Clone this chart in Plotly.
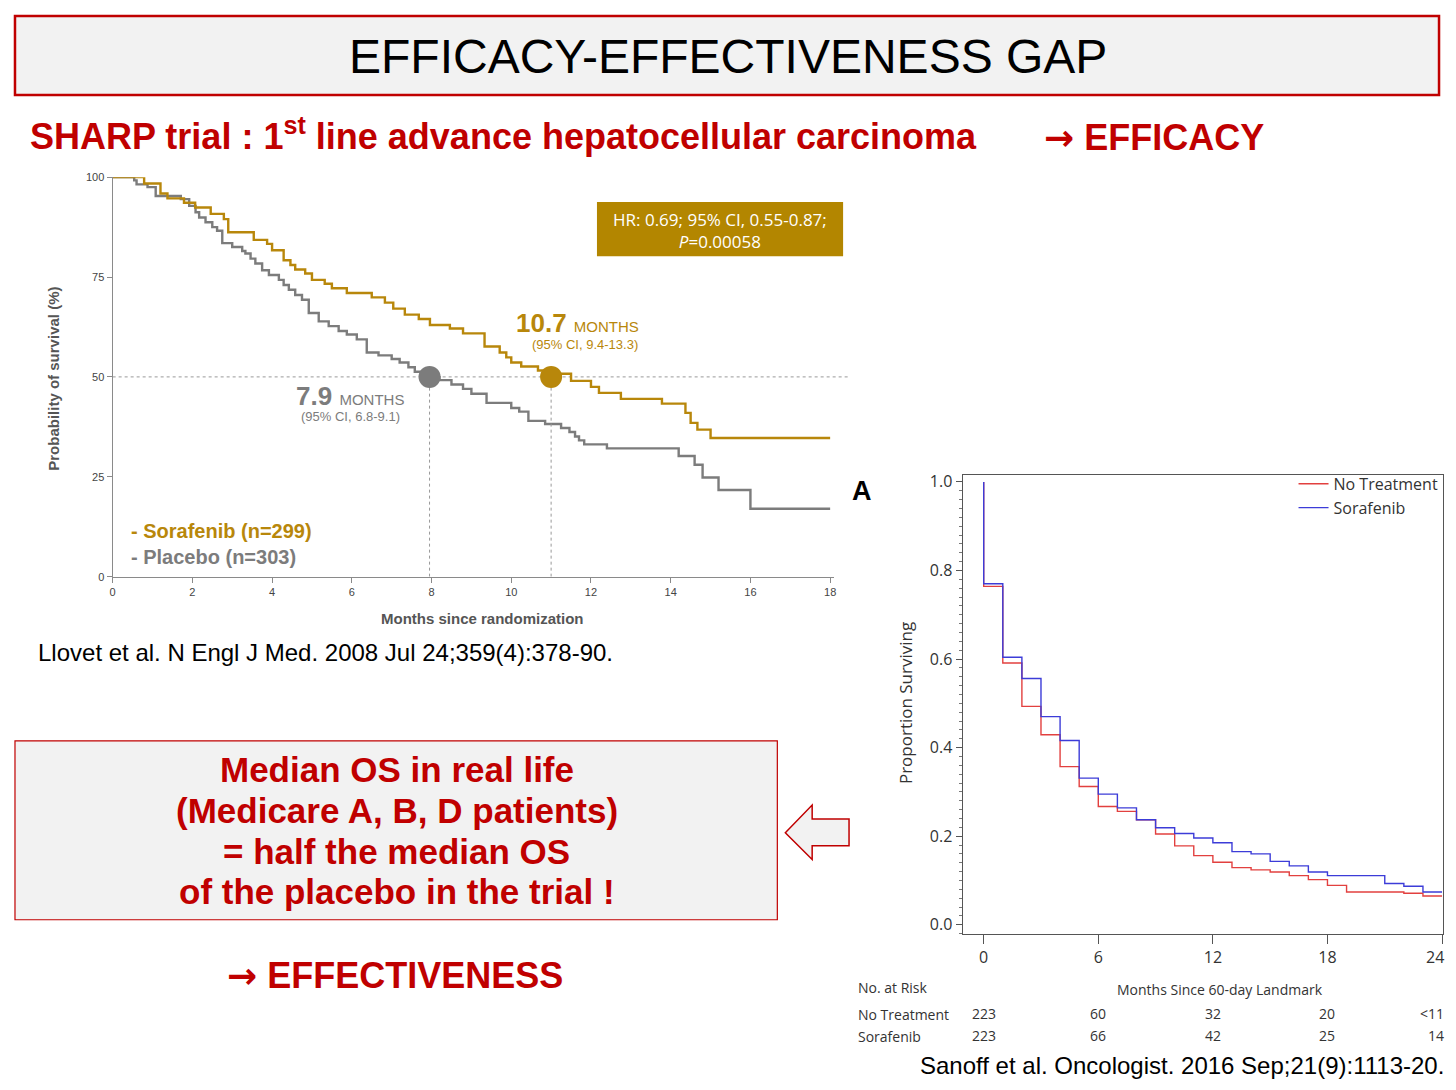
import plotly.graph_objects as go

# page is 1456x1090; the body has an 8px margin, so the figure is drawn 16px smaller
OFF = 8
W, H = 1456 - 2 * OFF, 1090 - 2 * OFF

# --- SHARP trial (Llovet 2008), survival in %
sorafenib_months = [0, 0.79, 1.2, 1.375, 1.79, 2.07, 2.46, 2.79, 2.9, 3.54, 3.875, 4.0, 4.29, 4.46,
                    4.58, 4.83, 5.0, 5.32, 5.5, 5.875, 6.5, 6.83, 7.04, 7.33, 7.68, 7.96, 8.46, 8.79,
                    9.33, 9.71, 9.875, 10.0, 10.25, 10.67, 10.85, 11.5, 12.0, 12.2, 12.75, 13.78,
                    14.37, 14.5, 14.67, 15.0, 18.0]
sorafenib_surv = [100, 98.4, 95.9, 94.7, 93.6, 92.4, 90.8, 89.5, 86.2, 84.3, 83.3, 81.7, 79.2, 78.0,
                  76.9, 75.9, 74.3, 73.3, 72.2, 71.0, 69.9, 68.6, 67.1, 65.6, 64.5, 63.0, 62.1, 60.9,
                  57.6, 56.1, 54.9, 53.6, 52.6, 51.6, 50.8, 49.0, 47.5, 46.0, 44.5, 43.3,
                  41.0, 38.5, 36.8, 34.7, 34.7]

placebo_months = [0, 0.54, 0.6, 0.875, 1.08, 1.71, 1.92, 2.08, 2.17, 2.33, 2.5, 2.62, 2.75, 3.0,
                  3.25, 3.33, 3.46, 3.58, 3.75, 3.92, 4.17, 4.29, 4.42, 4.58, 4.75, 4.92, 5.17,
                  5.42, 5.67, 5.875, 6.125, 6.375, 6.67, 7.0, 7.2, 7.42, 7.58, 7.95, 8.2, 8.5,
                  8.79, 9.0, 9.38, 10.0, 10.2, 10.43, 10.85, 11.25, 11.46, 11.6, 11.7, 11.83,
                  12.4, 14.2, 14.6, 14.8, 15.2, 16.0, 18.0]
placebo_surv = [100, 99.2, 98.2, 97.5, 95.3, 94.5, 92.8, 91.2, 89.9, 88.7, 87.5, 86.6, 83.5, 82.5,
                81.5, 80.9, 79.6, 78.4, 76.7, 75.5, 74.3, 73.0, 71.8, 70.5, 69.3, 66.0, 63.9,
                62.7, 61.5, 60.6, 59.4, 56.1, 55.4, 54.5, 53.6, 52.4, 51.3, 49.9, 49.2, 48.1,
                47.0, 45.8, 43.5, 42.2, 41.3, 39.0, 38.2, 37.2, 36.2, 35.1, 34.1, 33.1,
                32.1, 30.2, 28.0, 24.8, 21.7, 17.0, 17.0]

median_placebo = 7.95
median_sorafenib = 11.0
left_xticks = [0, 2, 4, 6, 8, 10, 12, 14, 16, 18]
left_yticks = [0, 25, 50, 75, 100]

# --- Sanoff 2016, Medicare landmark analysis
landmark_months = [0, 0, 1, 2, 3, 4, 5, 6, 7, 8, 9, 10, 11, 12, 13, 14, 15, 16, 17, 18, 19, 20, 21,
                   22, 23, 24]
no_treatment = [1.0, 0.764, 0.591, 0.493, 0.429, 0.357, 0.312, 0.267, 0.256, 0.237, 0.205, 0.178,
                0.156, 0.141, 0.129, 0.124, 0.119, 0.111, 0.102, 0.089, 0.074, 0.074, 0.074,
                0.071, 0.065, 0.065]
sorafenib_rl = [1.0, 0.770, 0.604, 0.556, 0.470, 0.416, 0.331, 0.295, 0.264, 0.237, 0.219, 0.206,
                0.196, 0.185, 0.165, 0.160, 0.143, 0.133, 0.119, 0.111, 0.111, 0.111, 0.093,
                0.087, 0.074, 0.074]
risk_months = [0, 6, 12, 18, 24]
risk_no_treatment = ["223", "60", "32", "20", "<11"]
risk_sorafenib = ["223", "66", "42", "25", "14"]
right_ytick_vals = [0, 0.2, 0.4, 0.6, 0.8, 1.0]

message_lines = ["Median OS in real life", "(Medicare A, B, D patients)",
                 "= half the median OS", "of the placebo in the trial !"]

GOLD = "#b8870b"
GREY = "#7c7c7c"
RED = "#c00000"
INK = "#333333"
ARIAL = "Arial, Liberation Sans, sans-serif"
NARROW = "Liberation Sans Narrow, Arial Narrow, Liberation Sans, sans-serif"
SAS = "Open Sans, Noto Sans, sans-serif"
ARROW = "<span style='font-family:DejaVu Sans'>\u2192</span>"


def fx(px):
    return (px - OFF) / W


def fy(py):
    return 1 - (py - OFF) / H


fig = go.Figure()

# left KM
fig.add_trace(go.Scatter(x=placebo_months, y=placebo_surv, mode="lines", line_shape="hv",
                         line=dict(color=GREY, width=2.4), showlegend=False, xaxis="x", yaxis="y"))
fig.add_trace(go.Scatter(x=sorafenib_months, y=sorafenib_surv, mode="lines", line_shape="hv",
                         line=dict(color=GOLD, width=2.4), showlegend=False, xaxis="x", yaxis="y"))
for m in [median_placebo, median_sorafenib]:
    fig.add_trace(go.Scatter(x=[m, m], y=[0, 50], mode="lines",
                             line=dict(color="#999999", width=1, dash="dot"),
                             showlegend=False, xaxis="x", yaxis="y"))
fig.add_trace(go.Scatter(x=[median_placebo, median_sorafenib], y=[50, 50], mode="markers",
                         marker=dict(size=22, color=[GREY, GOLD]), showlegend=False,
                         xaxis="x", yaxis="y"))

# right KM
fig.add_trace(go.Scatter(x=landmark_months, y=no_treatment, mode="lines", line_shape="hv",
                         name="No Treatment", line=dict(color="#e2403f", width=1.4),
                         xaxis="x2", yaxis="y2"))
fig.add_trace(go.Scatter(x=landmark_months, y=sorafenib_rl, mode="lines", line_shape="hv",
                         name="Sorafenib", line=dict(color="#3c3cd8", width=1.4),
                         xaxis="x2", yaxis="y2"))

shapes = [
    # title box
    dict(type="rect", xref="paper", yref="paper", x0=fx(12), x1=fx(1441), y0=fy(90), y1=fy(10),
         fillcolor="#f2f2f2", line=dict(color=RED, width=2.5), layer="below"),
    # message box
    dict(type="rect", xref="paper", yref="paper", x0=fx(12), x1=fx(777), y0=fy(924), y1=fy(743),
         fillcolor="#f2f2f2", line=dict(color=RED, width=1.2), layer="below"),
    # hollow arrow
    dict(type="path", xref="paper", yref="paper",
         path="M {:.4f} {:.4f} L {:.4f} {:.4f} L {:.4f} {:.4f} L {:.4f} {:.4f} L {:.4f} {:.4f} "
              "L {:.4f} {:.4f} L {:.4f} {:.4f} Z".format(
             fx(785), fy(836), fx(812), fy(808), fx(812), fy(822), fx(849), fy(822),
             fx(849), fy(849), fx(812), fy(849), fx(812), fy(863)),
         fillcolor="#f2f2f2", line=dict(color=RED, width=1.5)),
    # HR box
    dict(type="rect", xref="paper", yref="paper", x0=fx(596), x1=fx(843), y0=fy(253), y1=fy(198),
         fillcolor="#b38600", line=dict(width=0)),
    # 50% reference
    dict(type="line", xref="paper", yref="y", x0=fx(110), x1=fx(850), y0=50, y1=50,
         line=dict(color="#999999", width=1, dash="dot"), layer="below"),
]

annotations = [
    dict(text="EFFICACY-EFFECTIVENESS GAP", x=fx(727), y=fy(51), font=dict(size=48, color="black", family=ARIAL)),
    dict(text="<b>SHARP trial : 1<sup>st</sup> line advance hepatocellular carcinoma</b>", x=fx(25), y=fy(129),
         xanchor="left", font=dict(size=36, color=RED, family=ARIAL)),
    dict(text="<b>" + ARROW + " EFFICACY</b>", x=fx(1043), y=fy(133), xanchor="left",
         font=dict(size=36, color=RED, family=ARIAL)),
    dict(text="<b>" + ARROW + " EFFECTIVENESS</b>", x=fx(393), y=fy(980),
         font=dict(size=36, color=RED, family=ARIAL)),
    dict(text="Llovet et al. N Engl J Med. 2008 Jul 24;359(4):378-90.", x=fx(33), y=fy(654),
         xanchor="left", font=dict(size=24, color="black", family=ARIAL)),
    dict(text="Sanoff et al. Oncologist. 2016 Sep;21(9):1113-20.", x=fx(1448), y=fy(1071),
         xanchor="right", font=dict(size=24, color="black", family=ARIAL)),
    # left chart texts
    dict(text="HR: 0.69; 95% CI, 0.55-0.87;<br><i>P</i>=0.00058", x=fx(719), y=fy(227),
         font=dict(size=17, color="white", family=SAS)),
    dict(text="<b>10.7</b> <span style='font-size:15px'>MONTHS</span>", x=fx(576), y=fy(320),
         font=dict(size=26, color=GOLD, family=NARROW)),
    dict(text="(95% CI, 9.4-13.3)", x=fx(584), y=fy(342), font=dict(size=13, color=GOLD, family=NARROW)),
    dict(text="<b>7.9</b> <span style='font-size:15px'>MONTHS</span>", x=fx(348), y=fy(394),
         font=dict(size=26, color=GREY, family=NARROW)),
    dict(text="(95% CI, 6.8-9.1)", x=fx(349), y=fy(415), font=dict(size=13, color=GREY, family=NARROW)),
    dict(text="<b>- Sorafenib (n=299)</b>", x=fx(126), y=fy(531), xanchor="left",
         font=dict(size=20, color=GOLD, family=ARIAL)),
    dict(text="<b>- Placebo (n=303)</b>", x=fx(126), y=fy(557), xanchor="left",
         font=dict(size=20, color=GREY, family=ARIAL)),
    dict(text="<b>Probability of survival (%)</b>", x=fx(51), y=fy(377), textangle=-90,
         font=dict(size=15, color="#555555", family=ARIAL)),
    dict(text="<b>Months since randomization</b>", x=fx(481), y=fy(619),
         font=dict(size=15, color="#555555", family=ARIAL)),
    # right chart texts
    dict(text="<b>A</b>", x=fx(862), y=fy(490), font=dict(size=27, color="black", family=ARIAL)),
    dict(text="Proportion Surviving", x=fx(905), y=fy(705), textangle=-90,
         font=dict(size=17, color=INK, family=SAS)),
    # last x tick label sits on the page edge: keep it fully visible
    dict(text=str(risk_months[-1]), x=1.0, y=fy(962), xanchor="right",
         font=dict(size=16, color=INK, family=SAS)),
    dict(text="No. at Risk", x=fx(856), y=fy(992), xanchor="left", font=dict(size=14, color=INK, family=SAS)),
    dict(text="Months Since 60-day Landmark", x=fx(1221), y=fy(995),
         font=dict(size=14, color=INK, family=SAS)),
    dict(text="No Treatment", x=fx(856), y=fy(1020), xanchor="left", font=dict(size=14, color=INK, family=SAS)),
    dict(text="Sorafenib", x=fx(856), y=fy(1042), xanchor="left", font=dict(size=14, color=INK, family=SAS)),
]
for i, line in enumerate(message_lines):
    annotations.append(dict(text="<b>" + line + "</b>", x=fx(395), y=fy(772 + 41.3 * i),
                            font=dict(size=35, color=RED, family=ARIAL)))
for m, a, b in zip(risk_months, risk_no_treatment, risk_sorafenib):
    pos = dict(xref="x2", x=m) if m < risk_months[-1] else dict(xref="paper", x=1.0, xanchor="right")
    annotations.append(dict(text=a, y=fy(1019), font=dict(size=14, color=INK, family=SAS), **pos))
    annotations.append(dict(text=b, y=fy(1041), font=dict(size=14, color=INK, family=SAS), **pos))

for a in annotations:
    a.setdefault("xref", "paper")
    a.setdefault("yref", "paper")
    a.setdefault("xanchor", "center")
    a.setdefault("yanchor", "middle")
    a.setdefault("showarrow", False)

fig.update_layout(
    width=W, height=H,
    margin=dict(l=0, r=0, t=0, b=0),
    paper_bgcolor="white", plot_bgcolor="white",
    shapes=shapes, annotations=annotations,
    xaxis=dict(domain=[fx(110), fx(834)], range=[0, 18.1], anchor="y",
               tickvals=left_xticks, showgrid=False, zeroline=False,
               showline=True, linecolor="#8a8a8a", linewidth=1.2, ticks="outside", ticklen=5,
               tickcolor="#8a8a8a", tickfont=dict(size=11, color="#444444", family=ARIAL)),
    yaxis=dict(domain=[fy(577), fy(173)], range=[0, 100], anchor="x",
               tickvals=left_yticks, showgrid=False, zeroline=False,
               showline=True, linecolor="#8a8a8a", linewidth=1.2, ticks="outside", ticklen=5,
               tickcolor="#8a8a8a", tickfont=dict(size=11, color="#444444", family=ARIAL)),
    xaxis2=dict(domain=[fx(963), fx(1445)], range=[-1.1, 24.05], anchor="y2",
                tickvals=risk_months, ticktext=[str(m) for m in risk_months[:-1]] + [""],
                showgrid=False, zeroline=False,
                showline=True, mirror=True, linecolor="#555555", linewidth=1.3,
                ticks="outside", ticklen=9, tickcolor="#555555",
                tickfont=dict(size=16, color=INK, family=SAS)),
    yaxis2=dict(domain=[fy(938), fy(474)], range=[-0.02, 1.016], anchor="x2",
                tickvals=right_ytick_vals, tickformat=".1f",
                showgrid=False, zeroline=False,
                showline=True, mirror=True, linecolor="#555555", linewidth=1.3,
                ticks="outside", ticklen=6, tickcolor="#555555",
                minor=dict(dtick=0.02, ticks="outside", ticklen=3, tickcolor="#777777"),
                tickfont=dict(size=16, color=INK, family=SAS)),
    legend=dict(x=fx(1295), y=fy(466), xanchor="left", yanchor="top",
                bgcolor="rgba(0,0,0,0)", font=dict(size=16, color=INK, family=SAS),
                tracegroupgap=0),
)

fig.write_html("out.html")
